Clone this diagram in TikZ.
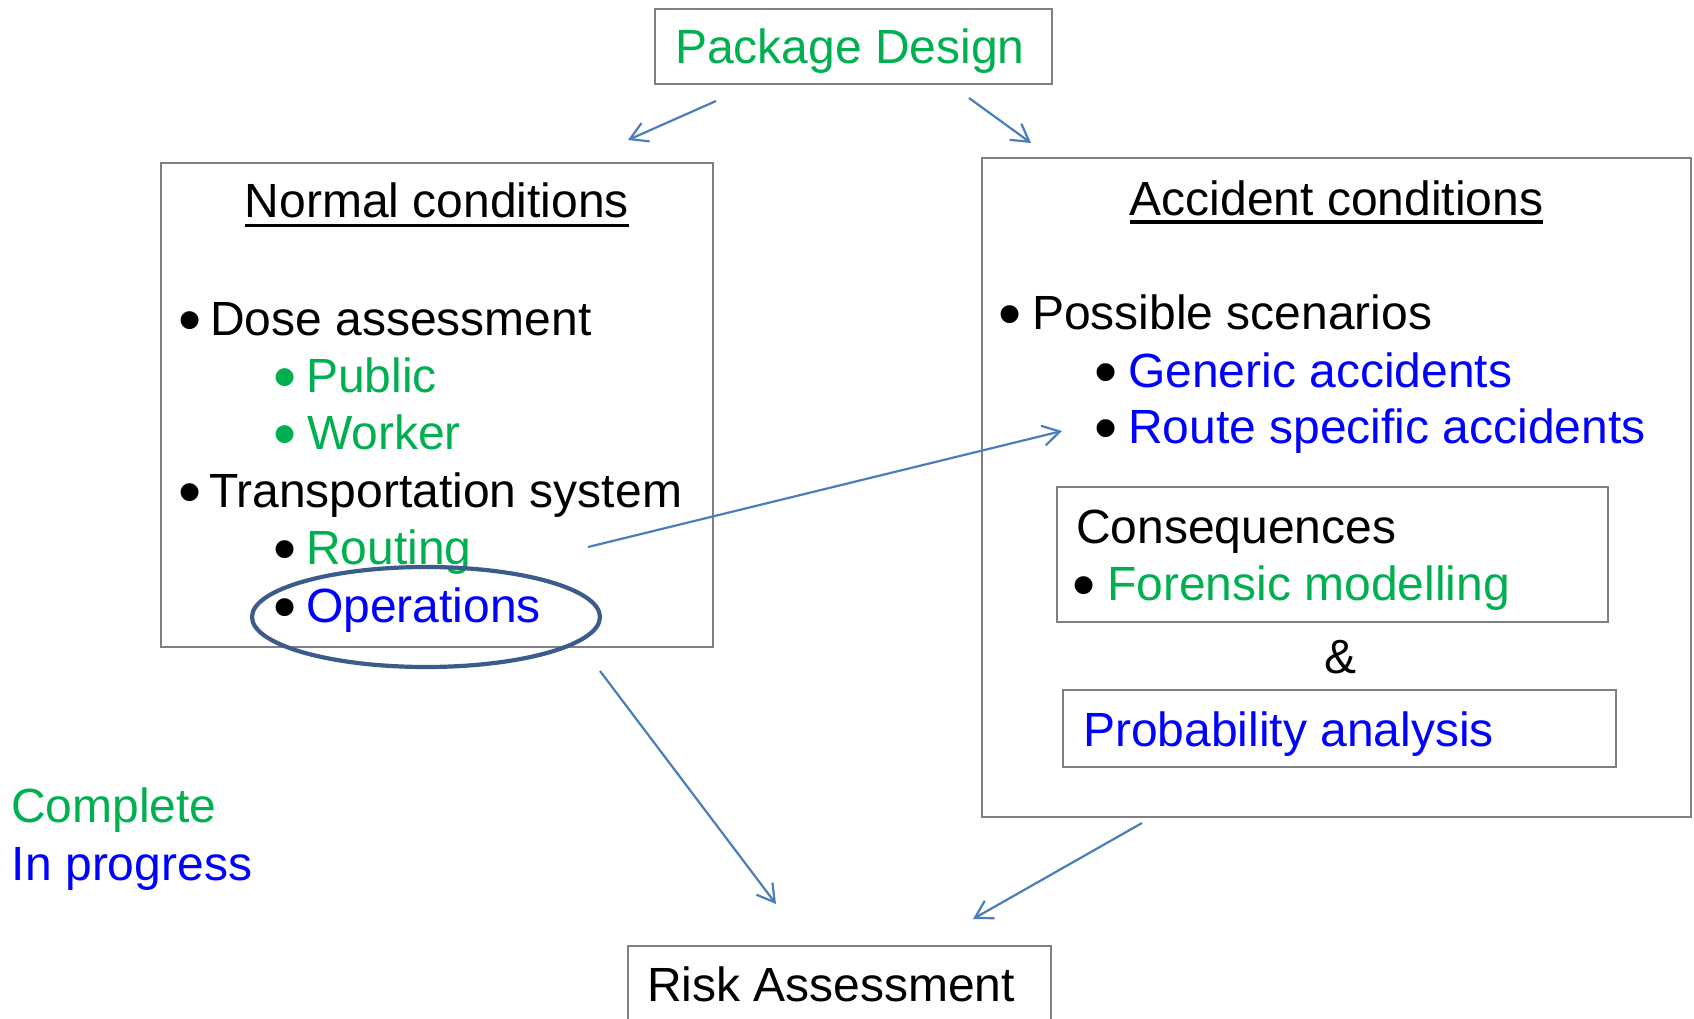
\documentclass[tikz,border=0pt]{standalone}
\usepackage{fontspec}
\setmainfont{Liberation Sans}
\usetikzlibrary{arrows.meta,fit}
\definecolor{cgreen}{HTML}{00B050}
\definecolor{cblue}{HTML}{0000FF}
\definecolor{arrowblue}{HTML}{4A7EBB}
\definecolor{boxgray}{HTML}{808080}
\definecolor{ellblue}{HTML}{3B5B8C}
\begin{document}
\begin{tikzpicture}[x=1pt,y=-1pt,
  every node/.style={font=\fontsize{48}{57}\selectfont, inner sep=0pt, outer sep=0pt},
  txt/.style={anchor=base west},
  bul/.style={anchor=base, font=\fontsize{66}{70}\selectfont, yshift=-7pt, text height=30pt, text depth=0pt},
  boxr/.style={draw=boxgray, line width=1.8pt, rectangle, inner sep=0pt},
  conn/.style={draw=arrowblue, line width=2.2pt, -{Straight Barb[length=17pt,width=20pt]}},
  uline/.style={line width=3pt},
]
\useasboundingbox (0,0) rectangle (1694,1019);

% coordinates for box corners
\coordinate (pd1) at (655,9);   \coordinate (pd2) at (1052,84);
\coordinate (nb1) at (161,163); \coordinate (nb2) at (713,647);
\coordinate (ab1) at (982,158); \coordinate (ab2) at (1691,817);
\coordinate (cb1) at (1057,487); \coordinate (cb2) at (1608,622);
\coordinate (pb1) at (1063,690); \coordinate (pb2) at (1616,767);
\coordinate (rb1) at (628,946); \coordinate (rb2) at (1051,1030);

% boxes
\node[boxr, fit=(pd1)(pd2)] (pdbox) {};
\node[boxr, fit=(nb1)(nb2)] (nbox) {};
\node[boxr, fit=(ab1)(ab2)] (abox) {};
\node[boxr, fit=(cb1)(cb2)] (cbox) {};
\node[boxr, fit=(pb1)(pb2)] (pbox) {};
\node[boxr, fit=(rb1)(rb2)] (rbox) {};

% Package design
\node[txt, text=cgreen] (pdt) at (675,64) {Package Design};

% Normal conditions
\node[anchor=base] (nct) at (437,218) {Normal conditions};
\draw[uline] ([yshift=-7pt]nct.base west) -- ([yshift=-7pt]nct.base east);
\node[bul] (b1) at (190,335) {•};
\node[txt] (dose) at (210,335) {Dose assessment};
\node[bul, text=cgreen] (b2) at (285,392) {•};
\node[txt, text=cgreen] (pub) at (306,392) {Public};
\node[bul, text=cgreen] (b3) at (285,449) {•};
\node[txt, text=cgreen] (wrk) at (307,449) {Worker};
\node[bul] (b4) at (190,507) {•};
\node[txt] (trans) at (209,507) {Transportation system};
\node[bul] (b5) at (285,564) {•};
\node[txt, text=cgreen] (rout) at (306,564) {Routing};
\node[bul] (b6) at (285,622) {•};
\node[txt, text=cblue] (oper) at (306,622) {Operations};
\draw[ellblue, line width=4.2pt] (426,617) ellipse [x radius=174, y radius=50];

% Accident conditions
\node[anchor=base] (act) at (1336.5,215) {Accident conditions};
\draw[uline] ([yshift=-7pt]act.base west) -- ([yshift=-7pt]act.base east);
\node[bul] (b7) at (1010,329) {•};
\node[txt] (poss) at (1032,329) {Possible scenarios};
\node[bul] (b8) at (1106,387) {•};
\node[txt, text=cblue] (gen) at (1128,387) {Generic accidents};
\node[bul] (b9) at (1106,443) {•};
\node[txt, text=cblue] (route) at (1128,443) {Route specific accidents};
\node[txt] (cons) at (1076,543) {Consequences};
\node[bul] (b10) at (1084,600) {•};
\node[txt, text=cgreen] (foren) at (1107,600) {Forensic modelling};
\node[anchor=base] (amp) at (1340,673) {\&};
\node[txt, text=cblue] (prob) at (1083,746) {Probability analysis};

% Legend
\node[txt, text=cgreen] (compl) at (11,822) {Complete};
\node[txt, text=cblue] (prog) at (12,880) {In progress};

% Risk assessment
\node[txt] (risk) at (647,1001) {Risk Assessment};

% connector end points
\coordinate (a1s) at (716,101);  \coordinate (a1e) at (628,140);
\coordinate (a2s) at (969,98);   \coordinate (a2e) at (1031,143);
\coordinate (a5s) at (588,547);  \coordinate (a5e) at (1062,431);
\coordinate (a3s) at (600,671);  \coordinate (a3e) at (776,904);
\coordinate (a4s) at (1142,823); \coordinate (a4e) at (973,919);

\draw[conn] (a1s) -- (a1e);
\draw[conn] (a2s) -- (a2e);
\draw[conn] (a5s) -- (a5e);
\draw[conn] (a3s) -- (a3e);
\draw[conn] (a4s) -- (a4e);
\end{tikzpicture}
\end{document}
